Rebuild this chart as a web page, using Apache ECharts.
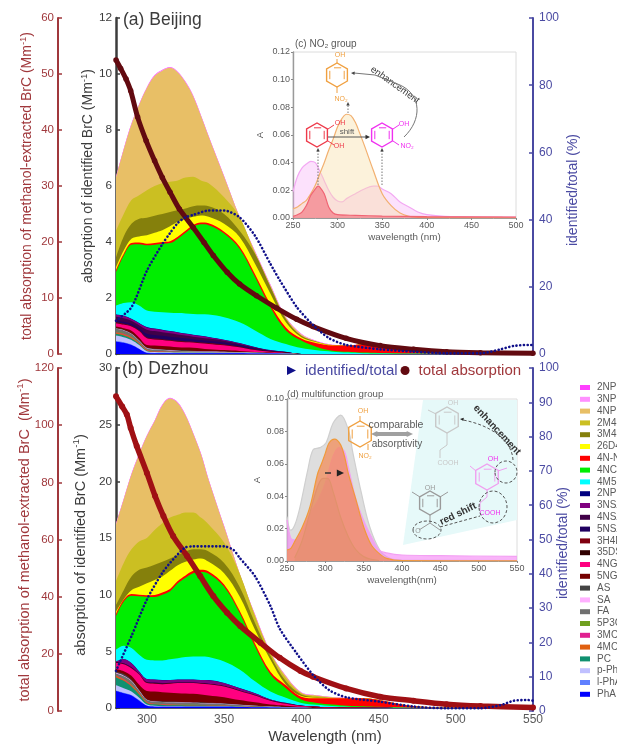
<!DOCTYPE html>
<html><head><meta charset="utf-8">
<script src="https://cdn.jsdelivr.net/npm/echarts@6/dist/echarts.min.js"></script>
<style>html,body{margin:0;padding:0;background:#fff;overflow:hidden}#c{width:617px;height:747px}</style>
</head><body><div id="c"></div>
<script>
// ---------- data ----------
const wavelengths=[280,285,290,295,300,305,310,315,320,325,330,335,340,350,360,370,380,390,400,410,420,430,440,450,470,500,550];
const speciesTopToBottom=['2NP','3NP','4NP','2M4NP','3M4NP','26D4NP','4N-NP','4NC','4M5NC','2NPOA','3NSA','4NSA','5NSA','3H4NBA','35DSA','4NG','5NG','AS','SA','FA','5P3CA','3MC','4MC','PC','p-PhA','l-PhA','PhA'];
const speciesColors=['#ff40ff','#ff90ff','#e8bf66','#cbbf22','#85800c','#ffff00','#ff0000','#00ee00','#00ffff','#000080','#800080','#400048','#200060','#800010','#300000','#ff0080','#750000','#444444','#ffb0ff','#707070','#70a020','#e02090','#e06010','#109070','#c0c0ff','#6080ff','#0000ff'];
// upper edge of each band (panel a, Mm-1)
const edgesA={
'PhA':[.44,.4,.32,.18,.04,.03,.03,.03,.03,.03,.03,.03,.03,.03,.03,.02,.02,.01],
'l-PhA':[.46,.42,.34,.19,.05,.04,.04,.04,.04,.04,.04,.04,.04,.04,.04,.03,.02,.01],
'p-PhA':[.66,.6,.5,.32,.1,.07,.06,.06,.05,.05,.05,.05,.05,.05,.05,.04,.03,.02],
'PC':[.72,.66,.55,.36,.12,.08,.07,.06,.06,.06,.06,.06,.06,.05,.05,.04,.03,.02],
'4MC':[.76,.7,.59,.39,.14,.09,.08,.07,.07,.07,.07,.06,.06,.06,.05,.04,.03,.02],
'3MC':[.78,.72,.6,.4,.15,.1,.09,.08,.08,.07,.07,.07,.07,.06,.05,.04,.03,.02],
'5P3CA':[.8,.74,.62,.41,.16,.11,.1,.09,.08,.08,.08,.07,.07,.06,.05,.04,.03,.02],
'FA':[.9,.84,.71,.47,.2,.16,.14,.12,.11,.1,.09,.08,.08,.07,.06,.05,.03,.02],
'SA':[.91,.85,.72,.48,.21,.17,.15,.13,.12,.11,.1,.09,.09,.08,.06,.05,.03,.02],
'AS':[.93,.87,.74,.5,.23,.19,.17,.15,.14,.13,.12,.11,.1,.09,.07,.05,.04,.02],
'5NG':[.98,.92,.83,.58,.32,.3,.29,.27,.24,.23,.22,.2,.17,.14,.11,.07,.05,.03],
'4NG':[1.1,1.05,.98,.82,.56,.52,.5,.47,.44,.42,.41,.38,.36,.31,.24,.14,.08,.04],
'35DSA':[1.11,1.06,.99,.83,.57,.53,.51,.48,.45,.43,.42,.39,.37,.32,.25,.15,.09,.05],
'3H4NBA':[1.13,1.08,1.01,.85,.59,.55,.53,.5,.47,.45,.44,.41,.39,.34,.26,.16,.09,.05],
'5NSA':[1.2,1.15,1.08,.93,.72,.68,.65,.62,.59,.56,.53,.5,.47,.41,.32,.2,.11,.06],
'4NSA':[1.33,1.28,1.19,1.03,.87,.82,.78,.74,.7,.66,.62,.58,.55,.47,.36,.23,.12,.07],
'3NSA':[1.4,1.36,1.25,1.1,.95,.9,.86,.81,.77,.72,.68,.64,.6,.5,.38,.24,.13,.07],
'2NPOA':[1.41,1.37,1.26,1.11,.96,.91,.87,.82,.78,.73,.69,.65,.61,.51,.39,.25,.14,.08],
'4M5NC':[1.73,1.82,1.85,1.73,1.55,1.51,1.49,1.47,1.46,1.45,1.43,1.42,1.41,1.31,1.13,.84,.54,.36,.21,.13,.08,.05,.03,.02,.01,.005,0],
'4NC':[2.93,3.52,3.9,3.92,3.88,3.9,3.94,3.96,4.12,4.33,4.54,4.63,4.6,4.3,3.76,2.75,1.67,.84,.48,.25,.12,.08,.05,.04,.02,.01,0],
'4N-NP':[3.0,3.58,3.96,3.98,3.94,3.96,4.0,4.03,4.19,4.4,4.61,4.7,4.67,4.37,3.84,2.85,1.78,.95,.55,.38,.3,.3,.35,.26,.12,.02,0],
'26D4NP':[3.1,3.7,4.12,4.2,4.24,4.33,4.42,4.56,4.72,4.82,4.9,4.95,4.9,4.65,4.18,3.22,2.15,1.13,.6,.42,.31,.3,.35,.26,.12,.02,0],
'3M4NP':[3.45,4.2,4.65,4.83,4.87,4.94,5.0,5.07,5.13,5.2,5.28,5.3,5.28,5.0,4.4,3.58,2.39,1.25,.65,.44,.31,.3,.35,.26,.12,.02,0],
'2M4NP':[4.4,5.0,5.5,5.67,5.85,6.0,6.1,6.15,6.2,6.3,6.33,6.2,6.1,5.6,4.9,3.6,2.4,1.26,.66,.44,.32,.3,.35,.26,.12,.02,0],
'4NP':[6.3,7.3,8.2,8.9,9.5,9.93,10.12,10.22,10.05,9.7,9.2,8.5,7.76,6.33,4.78,3.65,2.45,1.3,.7,.45,.32,.3,.35,.26,.12,.02,0],
'3NP':[6.32,7.32,8.22,8.92,9.52,9.95,10.14,10.24,10.07,9.72,9.22,8.52,7.78,6.35,4.8,3.67,2.47,1.31,.71,.46,.33,.31,.35,.26,.12,.02,0],
'2NP':[6.33,7.33,8.23,8.93,9.53,9.96,10.15,10.25,10.08,9.73,9.23,8.53,7.79,6.36,4.81,3.68,2.48,1.32,.72,.46,.33,.31,.35,.26,.12,.02,0]
};
// upper edge of each band, panel b
const edgesB={
'PhA':[1.5,1.3,1.1,.65,.2,.12,.1,.1,.1,.1,.1,.1,.1,.1,.08,.06,.05,.03,.02],
'l-PhA':[1.55,1.35,1.15,.7,.22,.14,.12,.11,.11,.11,.11,.11,.11,.11,.09,.07,.05,.03,.02],
'p-PhA':[2.0,1.75,1.45,.9,.3,.2,.16,.15,.15,.14,.14,.14,.14,.13,.1,.08,.06,.04,.02],
'PC':[2.7,2.4,1.9,1.2,.45,.32,.27,.25,.24,.23,.22,.21,.2,.18,.14,.1,.07,.05,.03],
'4MC':[2.82,2.5,2.0,1.3,.5,.36,.31,.28,.27,.26,.25,.24,.22,.2,.15,.11,.08,.05,.03],
'3MC':[2.86,2.55,2.05,1.33,.52,.38,.33,.3,.28,.27,.26,.25,.23,.2,.16,.11,.08,.05,.03],
'5P3CA':[2.9,2.6,2.1,1.36,.54,.4,.35,.32,.3,.29,.28,.26,.24,.21,.16,.12,.08,.05,.03],
'FA':[3.05,2.8,2.35,1.5,.7,.56,.52,.5,.48,.46,.44,.42,.4,.36,.27,.19,.13,.08,.04],
'SA':[3.1,2.85,2.4,1.55,.72,.58,.54,.52,.5,.48,.46,.44,.42,.38,.28,.2,.14,.08,.04],
'AS':[3.2,3.0,2.5,1.62,.78,.64,.6,.57,.55,.52,.5,.5,.46,.42,.3,.22,.15,.09,.05],
'5NG':[3.45,3.25,2.85,2.05,1.5,1.45,1.4,1.35,1.3,1.28,1.25,1.2,1.1,.95,.7,.5,.3,.2,.1,.06,.04,.03,.02,.01],
'4NG':[4.0,3.85,3.5,2.95,2.2,2.15,2.1,2.15,2.2,2.2,2.2,2.15,2.1,1.9,1.5,1.1,.65,.38,.18,.1,.06,.04,.03,.02],
'35DSA':[4.01,3.87,3.52,2.96,2.22,2.17,2.12,2.17,2.21,2.21,2.21,2.16,2.11,1.91,1.51,1.11,.66,.38,.18,.1,.06,.04,.03,.02],
'3H4NBA':[4.02,3.89,3.54,2.97,2.24,2.19,2.14,2.18,2.22,2.22,2.22,2.17,2.12,1.92,1.52,1.12,.66,.39,.19,.1,.06,.04,.03,.02],
'5NSA':[4.03,3.92,3.57,2.98,2.27,2.22,2.17,2.2,2.24,2.24,2.24,2.19,2.14,1.94,1.54,1.14,.67,.39,.19,.1,.06,.04,.03,.02],
'4NSA':[4.04,3.95,3.6,3.0,2.3,2.25,2.2,2.22,2.25,2.25,2.25,2.2,2.15,1.95,1.55,1.15,.68,.4,.19,.1,.06,.04,.03,.02],
'3NSA':[4.1,4.3,3.95,3.2,2.55,2.5,2.45,2.47,2.5,2.5,2.5,2.47,2.45,2.2,1.75,1.3,.75,.45,.2,.12,.07,.05,.03,.02],
'2NPOA':[4.11,4.31,3.96,3.21,2.56,2.51,2.46,2.48,2.51,2.51,2.51,2.48,2.46,2.21,1.76,1.31,.76,.46,.21,.12,.07,.05,.03,.02],
'4M5NC':[5.15,5.5,5.3,4.7,4.25,4.2,4.2,4.3,4.4,4.5,4.55,4.55,4.5,4.1,3.4,2.35,1.45,.9,.45,.28,.18,.12,.08,.05,.02,.01,0],
'4NC':[8.1,9.4,9.9,9.85,9.8,9.8,10,10.3,11,11.5,11.9,12,11.85,10.7,8.4,5.45,2.95,1.75,.75,.45,.3,.2,.15,.1,.03,.01,0],
'4N-NP':[8.3,9.55,10.05,10,9.95,9.98,10.2,10.5,11.2,11.7,12.1,12.2,12.05,10.9,8.6,5.7,3.2,2.0,1.0,.85,.85,.85,.85,.7,.2,.03,0],
'26D4NP':[8.5,9.6,10.4,10.7,11,11.3,11.6,12.1,12.6,12.9,13.1,13.2,12.9,11.9,9.85,6.9,4.25,2.05,1.05,.9,.86,.85,.85,.7,.2,.03,0],
'3M4NP':[9.1,10.4,11.6,12.2,12.4,12.65,12.9,13.2,13.5,13.8,14,14,13.8,12.8,10.7,7.5,4.6,2.35,1.2,.95,.87,.85,.85,.7,.2,.03,0],
'2M4NP':[11.2,12.8,14,14.7,15,15.7,16.3,16.8,17.05,17.26,17.26,16.8,16.2,14.6,11.9,8.1,4.85,2.65,1.3,1.05,.9,.86,.85,.7,.2,.03,0],
'4NP':[16.2,18.4,20.6,22.4,24,25.3,26.7,27.3,26.9,25.8,24.2,22.4,20.1,16,11.6,8.2,4.9,2.8,1.35,1.1,.95,.88,.85,.7,.2,.03,0],
'3NP':[16.25,18.45,20.65,22.45,24.05,25.35,26.75,27.35,26.95,25.85,24.25,22.45,20.15,16.05,11.65,8.25,4.95,2.83,1.38,1.12,.96,.89,.86,.71,.2,.03,0],
'2NP':[16.27,18.47,20.67,22.47,24.07,25.37,26.77,27.37,26.97,25.87,24.27,22.47,20.17,16.07,11.67,8.27,4.97,2.85,1.4,1.13,.97,.9,.87,.72,.2,.03,0]
};
const totalA=[[280,52.5],[283,51],[286.5,49.1],[289.5,47],[294,42.3],[299.5,38.1],[305,34.5],[310,31.5],[315,28.9],[321,25.9],[330,22.6],[337,19.9],[343,17.6],[352,14.6],[360,12.5],[371,10.4],[384,8.2],[397,6.2],[407.6,4.9],[429,2.8],[451,1.5],[472.6,.85],[494,.41],[516,.24],[550,.12]];
const ratioA=[[280,9.9],[290,13.9],[300,24.8],[310,32.7],[315,36],[320,39],[325,40.7],[330,41.4],[340,42.7],[350,42.7],[360,40.7],[370,35.2],[380,26.8],[386,22],[397,14],[407.6,8.6],[418,4.7],[429,2.7],[451,1.4],[472.6,.7],[494,.2],[516,.2],[529,1.4],[537.5,2.4],[547,2.7],[550,2.7]];
const totalB=[[280,110.1],[284,106.5],[287,103.7],[289.5,99],[293.4,92.7],[300,83.3],[305.3,75.2],[310.7,68.2],[317,61.2],[326,54.2],[334.5,47.2],[343,40.2],[351.9,34.4],[360.5,29.7],[373.5,23.9],[386,18.6],[399.5,14],[407.6,12],[429,7.9],[451,5],[472.6,3.6],[494,2.4],[516,1.75],[550,1.2]];
const ratioB=[[280,11.7],[290,21.8],[300,32.5],[310,40.3],[317,44.2],[324.6,47.6],[330,48],[340,48],[350,48],[356,47],[360,44.7],[370,39.3],[380,30.6],[386,24],[397,16.8],[407.6,10.5],[418,6.1],[429,4],[451,2.7],[472.6,1.3],[494,.8],[516,.8],[529,1.7],[537.5,3],[547,3.2],[550,3]];
// inset c
const catechol=[[250,.0012],[255,.0024],[260,.0043],[265,.009],[270,.0164],[275,.021],[278,.023],[280,.0224],[285,.0176],[290,.008],[295,.0036],[300,.0024],[320,.0019],[350,.0014],[400,.001],[500,.0007]];
const nitrophenol=[[250,.0067],[255,.008],[260,.0104],[265,.0128],[270,.0176],[275,.0236],[280,.032],[285,.04],[290,.049],[295,.057],[300,.066],[305,.072],[310,.075],[315,.074],[320,.069],[325,.061],[330,.0525],[340,.0345],[350,.0176],[360,.009],[370,.0036],[380,.0012],[390,.0005],[400,.0003],[500,.0002]];
const nitrocatechol=[[250,.019],[255,.03],[260,.036],[265,.039],[270,.041],[275,.04],[280,.034],[285,.027],[290,.02],[295,.015],[300,.0123],[305,.0116],[310,.014],[320,.0176],[330,.021],[340,.023],[345,.023],[350,.021],[360,.0176],[370,.0116],[380,.008],[390,.0043],[400,.0024],[420,.0012],[500,.0007]];
// inset d
const dGrey=[[250,.0274],[253,.02],[255,.019],[260,.022],[265,.0295],[270,.04],[277,.056],[284,.0687],[293,.07],[301,.073],[310,.085],[320,.09],[330,.081],[336,.0666],[347,.042],[358,.021],[371,.0068],[384,.0016],[400,.0005],[550,.0003]];
const dPink=[[250,.0254],[255,.014],[260,.013],[270,.019],[280,.0295],[290,.037],[300,.048],[310,.0645],[318,.07],[325,.0676],[330,.058],[340,.038],[350,.025],[360,.015],[370,.0068],[380,.005],[400,.0037],[450,.0033],[550,.0028]];
const dOrange=[[250,.0068],[255,.0078],[260,.012],[270,.021],[280,.0336],[290,.054],[295,.06],[300,.0666],[305,.073],[312,.0752],[320,.0717],[325,.0645],[330,.054],[340,.0377],[350,.021],[360,.0099],[370,.0047],[380,.0016],[400,.0002],[550,.0001]];
const dDark=[[260,.002],[270,.013],[280,.03],[290,.046],[297,.051],[303,.051],[310,.043],[320,.027],[330,.015],[340,.0068],[350,.0027],[360,.001],[370,.0003]];
const xTicks=[300,350,400,450,500,550];

// ---------- build ----------
const FONT='Liberation Sans';
const MAROON='#a0383c',NAVY='#4a4aa2',GREY='#5a5a5a',BLACK='#3c3c3c';
function bands(edges,xIdx,yIdx){
  // running upper edge, bottom species first; painted from the largest band down
  const order=speciesTopToBottom.slice().reverse(); const colorOf=n=>speciesColors[speciesTopToBottom.indexOf(n)];
  let prev=wavelengths.map(()=>0); const out=[];
  order.forEach(n=>{
    const e=edges[n];
    const top=wavelengths.map((w,i)=>i<e.length?Math.max(e[i],prev[i]):prev[i]);
    prev=top;
    out.unshift({type:'line',name:n,xAxisIndex:xIdx,yAxisIndex:yIdx,smooth:.35,symbol:'none',z:2,silent:true,
      lineStyle:{width:0},itemStyle:{color:colorOf(n)},areaStyle:{color:colorOf(n),opacity:1},
      data:wavelengths.map((w,i)=>[w,top[i]])});
  });
  return out;
}
function totalLine(data,x,y,c,w){return {type:'line',name:'total absorption',xAxisIndex:x,yAxisIndex:y,data,smooth:.3,z:5,
  symbol:'circle',symbolSize:w+.5,itemStyle:{color:c},lineStyle:{color:c,width:w}};}
function ratioLine(data,x,y){return {type:'line',name:'identified/total',xAxisIndex:x,yAxisIndex:y,data,smooth:.25,z:6,
  symbol:'none',itemStyle:{color:'#10108a'},lineStyle:{color:'#10108a',width:2.6,type:[.1,3.6],cap:'round'}};}
function insetArea(data,x,y,line,fill,z){return {type:'line',xAxisIndex:x,yAxisIndex:y,data,smooth:.35,symbol:'none',z,silent:true,
  lineStyle:{color:line,width:1.2},areaStyle:{color:fill,opacity:1}};}

function yAx(grid,pos,offset,min,max,interval,color,lineW,fs,margin){return {type:'value',gridIndex:grid,position:pos,offset,min,max,interval,
  splitLine:{show:false},axisLine:{show:true,onZero:false,lineStyle:{color,width:lineW}},
  axisTick:{show:true,inside:true,length:4,lineStyle:{color,width:1.5}},
  axisLabel:{color,fontSize:fs,fontFamily:FONT,margin}};}
function xMain(grid,labels){return {type:'value',gridIndex:grid,min:280,max:550,
  splitLine:{show:false},axisLine:{show:true,onZero:false,lineStyle:{color:'#20204a',width:1.6}},
  axisTick:{show:true,inside:true,length:3,customValues:xTicks,lineStyle:{color:'#222'}},
  axisLabel:{show:labels,customValues:xTicks,color:GREY,fontSize:12,fontFamily:FONT,margin:6}};}
function xInset(grid,max,name,gap){return {type:'value',gridIndex:grid,min:250,max,interval:50,name,nameLocation:'middle',nameGap:gap,
  nameTextStyle:{color:GREY,fontSize:9.8,fontFamily:FONT},
  splitLine:{show:false},axisLine:{show:true,onZero:false,lineStyle:{color:'#9a9a9a'}},
  axisTick:{show:true,length:2,lineStyle:{color:'#888'}},minorTick:{show:true,length:1,splitNumber:2,lineStyle:{color:'#aaa'}},
  axisLabel:{color:GREY,fontSize:9,fontFamily:FONT,margin:3}};}
function yInset(grid,max,gap){return {type:'value',gridIndex:grid,min:0,max,interval:.02,name:'A',nameLocation:'middle',nameGap:gap,
  nameTextStyle:{color:GREY,fontSize:9.5,fontFamily:FONT},
  splitLine:{show:false},axisLine:{show:true,onZero:false,lineStyle:{color:'#9a9a9a',width:1.4}},
  axisTick:{show:true,length:2,lineStyle:{color:'#888'}},
  axisLabel:{color:GREY,fontSize:9,fontFamily:FONT,margin:3,formatter:v=>v.toFixed(2)}};}

const G=[];
function T(x,y,text,size,fill,o={}){G.push({type:'text',x,y,rotation:o.rot||0,z:o.z||40,silent:true,
  style:{text,fill,fontSize:size,fontFamily:FONT,fontWeight:o.weight||'normal',align:o.align||'center',verticalAlign:'middle',
    rich:{s:{fontSize:size*.68,fill,fontFamily:FONT,verticalAlign:'top',lineHeight:size*1.3}}}});}
function L(pts,stroke,w,dash,z){G.push({type:'polyline',z:z||40,silent:true,shape:{points:pts},style:{stroke,lineWidth:w||1,fill:null,lineDash:dash||null}});}
function Tip(x,y,ang,c,s){s=s||4;G.push({type:'polygon',z:41,silent:true,shape:{points:[[x,y],[x-s*Math.cos(ang-.45),y-s*Math.sin(ang-.45)],[x-s*Math.cos(ang+.45),y-s*Math.sin(ang+.45)]]},style:{fill:c}});}
function Ring(cx,cy,r,c,w){const p=[];for(let i=0;i<6;i++){const a=Math.PI/6+i*Math.PI/3;p.push([cx+r*Math.cos(a),cy+r*Math.sin(a)]);}
  G.push({type:'polygon',z:40,silent:true,shape:{points:p},style:{stroke:c,lineWidth:w||1.4,fill:'rgba(255,255,255,0)'}});
  L([[cx-r*.6,cy+r*.35],[cx-r*.6,cy-r*.35]],c,1);L([[cx+r*.6,cy+r*.35],[cx+r*.6,cy-r*.35]],c,1);L([[cx-r*.25,cy-r*.6],[cx+r*.35,cy-r*.6]],c,1);}
function Ell(cx,cy,rx,ry){G.push({type:'ellipse',z:42,silent:true,shape:{cx,cy,rx,ry},style:{stroke:'#555',lineWidth:1,fill:'rgba(0,0,0,0)',lineDash:[3,2]}});}
function Bez(x1,y1,c1x,c1y,c2x,c2y,x2,y2,stroke,dash){G.push({type:'bezierCurve',z:40,silent:true,shape:{x1,y1,cpx1:c1x,cpy1:c1y,cpx2:c2x,cpy2:c2y,x2,y2},style:{stroke,lineWidth:1,fill:null,lineDash:dash||null}});}

// axis titles
T(27,186,'total absorption of methanol-extracted BrC (Mm{s|-1})',14,MAROON,{rot:Math.PI/2});
T(88,176,'absorption of identified BrC (Mm{s|-1})',14,BLACK,{rot:Math.PI/2});
T(573,190,'identified/total (%)',14,NAVY,{rot:Math.PI/2});
T(25,540,'total absorption of methanol-extracted BrC  (Mm{s|-1})',14.5,MAROON,{rot:Math.PI/2});
T(81,545,'absorption of identified BrC (Mm{s|-1})',14.5,BLACK,{rot:Math.PI/2});
T(563,543,'identified/total (%)',14,NAVY,{rot:Math.PI/2});
T(123,20,'(a) Beijing',17.5,BLACK,{align:'left'});
T(122,369,'(b) Dezhou',17.5,BLACK,{align:'left'});
T(325,737,'Wavelength (nm)',15,BLACK);

// inset c decorations
T(295,44,'(c) NO₂ group',10,GREY,{align:'left'});
const OR='#f0a040',RD='#ee3a4a',MG='#f030f0';
Ring(337,75,12,OR);L([[337,63],[337,59]],OR);L([[337,87],[337,93]],OR);T(340,55,'OH',7,OR);T(341,99,'NO₂',7,OR);
Ring(317,135,12,RD);L([[328,129],[334,125]],RD);L([[328,141],[334,145]],RD);T(340,123,'OH',7,RD);T(339,146,'OH',7,RD);
Ring(382,135,12,MG);L([[393,129],[399,125]],MG);L([[393,141],[399,145]],MG);T(404,124,'OH',7,MG);T(407,146,'NO₂',7,MG);
L([[328,137],[368,137]],'#555',1);Tip(370,137,0,'#333',5);T(347,132,'shift',8,GREY);
L([[318,185],[318,151]],'#777',1,[1.5,1.5]);Tip(318,148,-Math.PI/2,'#444');
L([[382,185],[382,151]],'#777',1,[1.5,1.5]);Tip(382,148,-Math.PI/2,'#444');
L([[348,113],[348,105]],'#777',1,[1.5,1.5]);Tip(348,102,-Math.PI/2,'#444');
T(395,85,'enhancement',9.5,'#333',{rot:-.62});
Bez(404,137,422,120,422,95,400,85,'#777');L([[400,85],[375,75],[354,73]],'#777');Tip(351,73,Math.PI+.05,'#444');

// inset d decorations
T(287,394,'(d) multifunction group',9.7,GREY,{align:'left'});
G.push({type:'polygon',z:0,silent:true,shape:{points:[[403,545],[423,400],[517,400],[517,520]]},style:{fill:'#e6f9f9'}});
Ring(360,434,13,OR);L([[360,421],[360,416]],OR);L([[368,444],[368,450]],OR);T(363,411,'OH',7,OR);T(365,456,'NO₂',7,OR);
T(396,425,'comparable',10.5,GREY);T(397,444,'absorptivity',10,GREY);
L([[376,434],[408,434]],'#a0a0a0',4);Tip(371,434,Math.PI,'#a0a0a0',7);Tip(413,434,0,'#a0a0a0',7);
L([[325,473],[331,473]],'#333',1.5);Tip(344,473,0,'#222',8);
const LG='#c8c8c8',PK='#f0a0f0',DG='#9a9a9a';
Ring(447,420,13,LG);T(453,403,'OH',7,LG);L([[436,414],[428,410]],LG);L([[447,433],[447,445],[440,450],[440,458]],LG);T(448,463,'COOH',7,LG);
Ring(487,477,13,PK);T(493,459,'OH',7,MG);L([[476,471],[470,466]],PK);L([[498,471],[507,468]],PK);L([[487,490],[487,497],[480,503],[480,510]],PK);T(490,513,'COOH',7,MG);
Ring(430,503,12,DG);T(430,488,'OH',7,DG);L([[420,497],[412,492]],DG);L([[440,497],[448,492]],DG);L([[430,515],[430,523],[419,530]],DG);L([[430,523],[440,530]],DG);T(418,531,'O',7,DG);
Ell(506,472,11,11);Ell(493,507,14,16);Ell(427,530,14,9);
T(497,430,'enhancement',10,'#333',{rot:-.82,weight:'bold'});
T(458,514,'red shift',10,'#333',{rot:.45,weight:'bold'});
Bez(513,460,512,440,490,425,463,420,'#555',[3,2]);Tip(460,419,Math.PI+.1,'#222');
L([[440,527],[480,516]],'#555',1,[3,2]);

const option={
  animation:false,backgroundColor:'#fff',textStyle:{fontFamily:FONT},
  legend:[
    {data:speciesTopToBottom,orient:'vertical',left:580,top:382.5,itemWidth:10,itemHeight:5,itemGap:1.8,icon:'rect',selectedMode:false,padding:0,
     textStyle:{color:GREY,fontSize:10,fontFamily:FONT,lineHeight:8,padding:[0,0,0,2]},align:'left'},
    {data:[{name:'identified/total',icon:'path://M0 0L10 5L0 10Z',textStyle:{color:NAVY}},{name:'total absorption',icon:'circle',textStyle:{color:MAROON}}],
     left:287,top:363,itemWidth:11,itemHeight:9,itemGap:3,selectedMode:false,padding:0,textStyle:{fontSize:15,fontFamily:FONT,padding:[0,0,0,3]}}
  ],
  grid:[
    {left:116,top:18,width:417,height:336},
    {left:116,top:368,width:417,height:340},
    {left:116,top:368,width:417,height:343},
    {left:293,top:52,width:223,height:166,show:true,borderColor:'#dcdcdc',borderWidth:1,backgroundColor:'rgba(0,0,0,0)'},
    {left:287,top:399,width:230,height:162,show:true,borderColor:'#dcdcdc',borderWidth:1,backgroundColor:'rgba(0,0,0,0)'}
  ],
  xAxis:[xMain(0,false),xMain(1,true),Object.assign(xMain(2,false),{show:false}),xInset(3,500,'wavelength (nm)',14),xInset(4,550,'wavelength(nm)',14)],
  yAxis:[
    yAx(0,'left',0,0,12,2,BLACK,2.5,11.8,4),
    yAx(0,'left',58,0,60,10,MAROON,2,11.5,4),
    yAx(0,'right',0,0,100,20,NAVY,2,12,6),
    yAx(1,'left',0,0,30,5,BLACK,2.5,11.8,4),
    yAx(2,'left',58,0,120,20,MAROON,2,11.5,4),
    yAx(2,'right',0,0,100,10,NAVY,2,12,6),
    yInset(3,.12,28),yInset(4,.10,25)
  ],
  series:[
    ...bands(edgesA,0,0),
    ratioLine(ratioA,0,2),totalLine(totalA,0,1,'#620a10',5),
    ...bands(edgesB,1,3),
    ratioLine(ratioB,2,5),totalLine(totalB,2,4,'#a01014',5.5),
    insetArea(nitrocatechol,3,6,'#f3a8f3','rgba(245,170,245,.35)',3),
    insetArea(nitrophenol,3,6,'#f2b070','rgba(248,225,170,.42)',4),
    insetArea(catechol,3,6,'#f06474','rgba(240,70,90,.45)',5),
    insetArea(dGrey,4,7,'#cfcfcf','rgba(200,200,200,.6)',3),
    insetArea(dPink,4,7,'#f3a0f3','rgba(245,130,245,.6)',4),
    insetArea(dDark,4,7,'#b0a0a0','rgba(150,140,140,.35)',5),
    insetArea(dOrange,4,7,'#f09a3a','rgba(242,140,90,.75)',6)
  ],
  graphic:{elements:G}
};
const chart=echarts.init(document.getElementById('c'),null,{renderer:'canvas',width:617,height:747});
chart.setOption(option);
</script></body></html>
